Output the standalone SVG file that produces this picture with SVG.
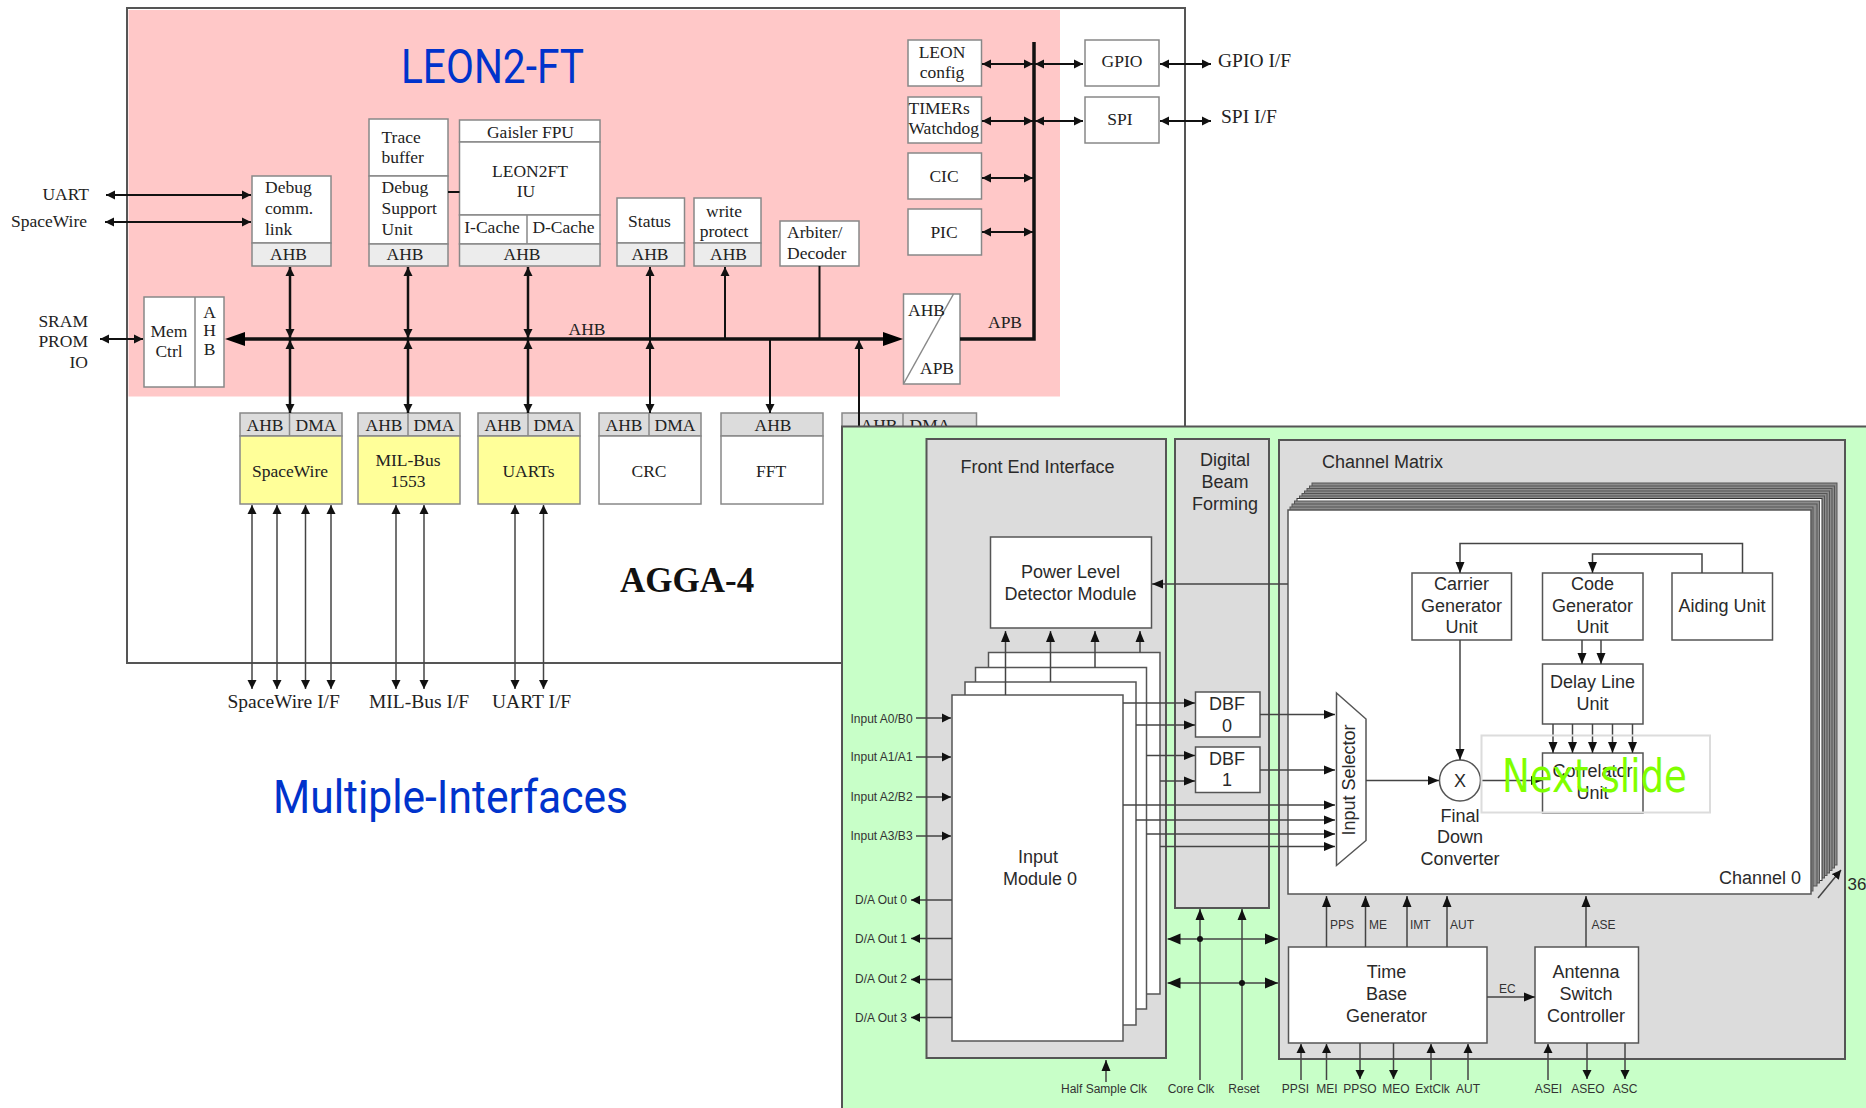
<svg xmlns="http://www.w3.org/2000/svg" width="1866" height="1108" viewBox="0 0 1866 1108">
<style>
text{fill:#222}
.s{font:17.5px "Liberation Serif",serif}
.l{font:19.5px "Liberation Serif",serif}
.a{font:18px "Liberation Sans",sans-serif;fill:#2a2a2a}
.m{font:12px "Liberation Sans",sans-serif;fill:#333}
.c{text-anchor:middle}
.r{text-anchor:end}
.t{font-family:"Roboto",sans-serif;fill:#0033cc;font-size:46px}
.ns{font-family:"DejaVu Sans",sans-serif;fill:#80ff00;font-size:46px}
.ag{font-family:"Liberation Serif",serif;font-weight:bold;font-size:35px;fill:#111}
.b{fill:#fff;stroke:#888;stroke-width:1.5}
.h{fill:#ececec;stroke:#888;stroke-width:1.5}
.g{fill:#dcdcdc;stroke:#888;stroke-width:1.5}
.y{fill:#ffff99;stroke:#888;stroke-width:1.5}
.d{fill:none;stroke:#888;stroke-width:1.5}
.n{fill:#fff;stroke:#555;stroke-width:1.5}
.p{fill:#dcdcdc;stroke:#555;stroke-width:2}
.k{fill:#8c8c8c;stroke:#555;stroke-width:1}
.w1,.w2,.w3,.w4{fill:none;stroke:#111}
.w1{stroke-width:2}
.w2{stroke-width:2.5}
.w3{stroke-width:3.5}
.w4{stroke:#444;stroke-width:1.5}
.sm{marker-start:url(#as);marker-end:url(#as)}
.em{marker-end:url(#as)}
.el{marker-end:url(#al)}
.dd{marker-start:url(#ax);marker-end:url(#ax)}
.hd{fill:#000}
</style>
<defs>
<marker id="as" markerUnits="userSpaceOnUse" markerWidth="9" markerHeight="10" refX="9" refY="5" orient="auto-start-reverse"><path d="M0,0.5L9,5L0,9.500z" fill="#111"/></marker>
<marker id="al" markerUnits="userSpaceOnUse" markerWidth="11" markerHeight="11" refX="11" refY="5.500" orient="auto-start-reverse"><path d="M0,1L11,5.500L0,10z" fill="#111"/></marker>
<marker id="ax" markerUnits="userSpaceOnUse" markerWidth="13" markerHeight="14" refX="13" refY="7" orient="auto-start-reverse"><path d="M0,1.500L13,7L0,12.500z" fill="#111"/></marker>
</defs>
<rect width="1866" height="1108" fill="#fff"/>

<g id="agga4">
<rect x="127" y="8" width="1058" height="655" fill="#fff" stroke="#555" stroke-width="2"/>
<rect x="128.500" y="10" width="931.500" height="386.500" fill="#ffc8c8"/>
<text x="401" y="83" class="t" style="font-size:48px" textLength="183" lengthAdjust="spacingAndGlyphs">LEON2-FT</text>
<text x="620" y="592" class="ag">AGGA-4</text>
<text x="273" y="813" class="t" textLength="355" lengthAdjust="spacingAndGlyphs">Multiple-Interfaces</text>
</g>

<g id="debug-link"><rect class="b" x="252" y="176" width="79" height="67"/><rect class="h" x="252" y="243" width="79" height="23"/><text class="s" x="265" y="193">Debug</text><text class="s" x="265" y="214">comm.</text><text class="s" x="265" y="235">link</text><text class="s c" x="288.500" y="260">AHB</text></g>
<g id="debug-support"><rect class="b" x="369" y="119" width="79" height="57"/><rect class="b" x="369" y="176" width="79" height="68"/><rect class="h" x="369" y="244" width="79" height="22"/><text class="s" x="381.500" y="143">Trace</text><text class="s" x="381.500" y="163">buffer</text><text class="s" x="381.500" y="193">Debug</text><text class="s" x="381.500" y="214">Support</text><text class="s" x="381.500" y="235">Unit</text><text class="s c" x="405" y="260">AHB</text></g>
<g id="leon2ft"><rect class="b" x="459.500" y="120" width="140.500" height="22"/><rect class="b" x="459.500" y="142" width="140.500" height="73"/><rect class="b" x="459.500" y="215" width="140.500" height="29"/><path class="d" d="M527 215V244"/><rect class="h" x="459.500" y="244" width="140.500" height="22"/><text class="s c" x="530.500" y="137.500">Gaisler FPU</text><text class="s c" x="530" y="176.500">LEON2FT</text><text class="s c" x="526" y="197">IU</text><text class="s c" x="492" y="232.500">I-Cache</text><text class="s c" x="563.500" y="232.500">D-Cache</text><text class="s c" x="522" y="260">AHB</text></g>
<g id="mem-ctrl"><rect class="b" x="144" y="297" width="80" height="90"/><path class="d" d="M195 297V387"/><text class="s c" x="169" y="337">Mem</text><text class="s c" x="169" y="357">Ctrl</text><text class="s c" x="209.500" y="318">A</text><text class="s c" x="209.500" y="336">H</text><text class="s c" x="209.500" y="355">B</text></g>
<g id="status"><rect class="b" x="617" y="198" width="67.500" height="45"/><rect class="h" x="617" y="243" width="67.500" height="23"/><text class="s c" x="649.500" y="227">Status</text><text class="s c" x="650" y="260">AHB</text></g>
<g id="write-protect"><rect class="b" x="694" y="198" width="67" height="45"/><rect class="h" x="694" y="243" width="67" height="23"/><text class="s c" x="724" y="217">write</text><text class="s c" x="724" y="237">protect</text><text class="s c" x="728.500" y="260">AHB</text></g>
<g id="arbiter"><rect class="b" x="780" y="221" width="79" height="45"/><text class="s" x="787" y="238">Arbiter/</text><text class="s" x="787" y="259">Decoder</text></g>
<g id="leon-config"><rect class="b" x="908" y="40" width="73.500" height="46"/><text class="s c" x="942" y="58">LEON</text><text class="s c" x="942" y="78">config</text></g>
<g id="timers"><rect class="b" x="908" y="97" width="73.500" height="46"/><text class="s" x="908.500" y="114">TIMERs</text><text class="s" x="908.500" y="134">Watchdog</text></g>
<g id="cic"><rect class="b" x="908" y="153" width="73.500" height="46"/><text class="s c" x="944" y="182">CIC</text></g>
<g id="pic"><rect class="b" x="908" y="209" width="73.500" height="46"/><text class="s c" x="944" y="238">PIC</text></g>
<g id="gpio"><rect class="b" x="1085" y="40" width="74" height="46"/><text class="s c" x="1122" y="67">GPIO</text></g>
<g id="spi"><rect class="b" x="1085" y="97" width="74" height="46"/><text class="s c" x="1120" y="125">SPI</text></g>
<g id="ahb-apb"><rect class="b" x="903.500" y="294" width="56.500" height="90"/><path class="d" d="M953.500 294L904 383"/><text class="s" x="908" y="316">AHB</text><text class="s" x="920" y="374">APB</text></g>

<g id="spacewire"><rect class="g" x="240" y="413" width="102" height="23"/><rect class="y" x="240" y="436" width="102" height="68"/><path class="d" d="M289.500 413V436"/><text class="s c" x="265" y="431">AHB</text><text class="s c" x="316" y="431">DMA</text><text class="s c" x="290" y="477">SpaceWire</text></g>
<g id="milbus"><rect class="g" x="358" y="413" width="102" height="23"/><rect class="y" x="358" y="436" width="102" height="68"/><path class="d" d="M408 413V436"/><text class="s c" x="384" y="431">AHB</text><text class="s c" x="434" y="431">DMA</text><text class="s c" x="408" y="466">MIL-Bus</text><text class="s c" x="408" y="487">1553</text></g>
<g id="uarts"><rect class="g" x="478" y="413" width="102" height="23"/><rect class="y" x="478" y="436" width="102" height="68"/><path class="d" d="M528 413V436"/><text class="s c" x="503" y="431">AHB</text><text class="s c" x="554" y="431">DMA</text><text class="s c" x="528.500" y="477">UARTs</text></g>
<g id="crc"><rect class="g" x="599" y="413" width="102" height="23"/><rect class="b" x="599" y="436" width="102" height="68"/><path class="d" d="M649 413V436"/><text class="s c" x="624" y="431">AHB</text><text class="s c" x="675" y="431">DMA</text><text class="s c" x="649" y="477">CRC</text></g>
<g id="fft"><rect class="g" x="721" y="413" width="102" height="23"/><rect class="b" x="721" y="436" width="102" height="68"/><text class="s c" x="773" y="431">AHB</text><text class="s c" x="771" y="477">FFT</text></g>
<g id="hidden-block"><rect class="g" x="842" y="413" width="134.500" height="30"/><path class="d" d="M903 413V436"/><text class="s c" x="879" y="431">AHB</text><text class="s c" x="930" y="431">DMA</text></g>

<g id="labels-top">
<text class="s r" x="89" y="200">UART</text><text class="s r" x="87" y="227">SpaceWire</text>
<text class="s r" x="88" y="327">SRAM</text><text class="s r" x="88" y="347">PROM</text><text class="s r" x="88" y="368">IO</text>
<text class="s" x="568.500" y="335">AHB</text><text class="s" x="988" y="328">APB</text>
<text class="l" x="1218" y="67">GPIO I/F</text><text class="l" x="1221" y="123">SPI I/F</text>
<text class="l" x="227.500" y="708">SpaceWire I/F</text><text class="l" x="369" y="708">MIL-Bus I/F</text><text class="l" x="492" y="708">UART I/F</text>
</g>

<g id="connectors-top">
<path class="w3" d="M240 339H888"/><path class="hd" d="M225 339L245 332V346z"/><path class="hd" d="M903 339L883 332V346z"/>
<path class="w3" d="M960 339H1034V42"/>
<g class="w1">
<path class="sm" d="M106 195H251"/><path class="sm" d="M105 222H251"/><path class="sm" d="M100 339H143"/>
<path d="M448 192H459.500"/>
<path class="sm" d="M982 64H1033"/><path class="sm" d="M1035 64H1083"/><path class="sm" d="M1160 64H1211"/>
<path class="sm" d="M982 121H1033"/><path class="sm" d="M1035 121H1083"/><path class="sm" d="M1160 121H1211"/>
<path class="sm" d="M982 178H1033"/><path class="sm" d="M982 232H1033"/>
</g>
<g class="w2">
<path class="sm" d="M290 267V338"/><path class="sm" d="M290 340V413"/>
<path class="sm" d="M408 267V338"/><path class="sm" d="M408 340V413"/>
<path class="sm" d="M528 267V338"/><path class="sm" d="M528 340V413"/>
</g>
<g class="w1">
<path class="em" d="M650 339V267"/><path class="sm" d="M650 340V413"/>
<path class="em" d="M725 339V267"/><path d="M819.500 266V339"/>
<path class="em" d="M770 339V413"/><path class="em" d="M859 426V340"/>
</g>
<g class="w4">
<path class="sm" d="M252 505V689"/><path class="sm" d="M277 505V689"/><path class="sm" d="M305.500 505V689"/><path class="sm" d="M331 505V689"/>
<path class="sm" d="M396 505V689"/><path class="sm" d="M424 505V689"/><path class="sm" d="M515 505V689"/><path class="sm" d="M543.500 505V689"/>
</g>
</g>

<rect id="green-panel" x="842" y="426.500" width="1030" height="690" fill="#c8ffc8" stroke="#555" stroke-width="2"/>

<g id="front-end"><rect class="p" x="926.500" y="439" width="239.500" height="619"/><text class="a" x="960.500" y="472.500">Front End Interface</text></g>
<g id="beam-forming"><rect class="p" x="1175" y="439" width="94" height="469"/><text class="a c" x="1225" y="466">Digital</text><text class="a c" x="1225" y="487.500">Beam</text><text class="a c" x="1225" y="509.500">Forming</text></g>
<g id="channel-matrix"><rect class="p" x="1279" y="440" width="566" height="619"/><text class="a" x="1322" y="468">Channel Matrix</text></g>
<g id="channel-stack">
<rect class="k" x="1312" y="483" width="525" height="382"/><rect class="k" x="1309.500" y="486" width="525" height="382"/><rect class="k" x="1307" y="488.500" width="525" height="382"/><rect class="k" x="1304.500" y="491" width="525" height="382"/><rect class="k" x="1302" y="493.500" width="525" height="382"/><rect class="k" x="1299.500" y="496" width="525" height="382"/><rect x="1297" y="498.500" width="525" height="382" fill="#fff" stroke="#333"/><rect class="k" x="1294.500" y="501" width="525" height="382"/><rect class="k" x="1292" y="504" width="525" height="382"/><rect class="k" x="1290" y="507" width="523" height="384"/>
</g>
<g id="channel-0"><rect class="n" x="1288" y="510" width="523" height="384"/><text class="a" x="1719" y="884">Channel 0</text></g>

<g id="input-3"><rect class="n" x="988.500" y="652.500" width="171.500" height="341.500"/></g>
<g id="input-2"><rect class="n" x="975.500" y="667.500" width="171" height="341.500"/></g>
<g id="input-1"><rect class="n" x="965" y="682" width="171" height="343"/></g>
<g id="input-0"><rect class="n" x="952" y="695" width="171" height="346"/><text class="a c" x="1038" y="863">Input</text><text class="a c" x="1040" y="885">Module 0</text></g>
<g id="power-level"><rect class="n" x="990.500" y="537" width="161" height="91"/><text class="a c" x="1070.500" y="578">Power Level</text><text class="a c" x="1070.500" y="600">Detector Module</text></g>
<g id="dbf-0"><rect class="n" x="1195.500" y="692" width="64.500" height="45"/><text class="a c" x="1227" y="709.500">DBF</text><text class="a c" x="1227" y="731.500">0</text></g>
<g id="dbf-1"><rect class="n" x="1195.500" y="747" width="64.500" height="45.500"/><text class="a c" x="1227" y="764.500">DBF</text><text class="a c" x="1227" y="786">1</text></g>
<g id="carrier"><rect class="n" x="1412" y="573" width="99.500" height="67"/><text class="a c" x="1461.500" y="590">Carrier</text><text class="a c" x="1461.500" y="611.500">Generator</text><text class="a c" x="1461.500" y="633">Unit</text></g>
<g id="code"><rect class="n" x="1542.500" y="573" width="100.500" height="67"/><text class="a c" x="1592.500" y="590">Code</text><text class="a c" x="1592.500" y="611.500">Generator</text><text class="a c" x="1592.500" y="633">Unit</text></g>
<g id="aiding"><rect class="n" x="1672" y="573" width="100.500" height="67"/><text class="a c" x="1722" y="611.500">Aiding Unit</text></g>
<g id="delay"><rect class="n" x="1542.500" y="664" width="100.500" height="60"/><text class="a c" x="1592.500" y="688">Delay Line</text><text class="a c" x="1592.500" y="710">Unit</text></g>
<g id="correlator"><rect class="n" x="1542.500" y="753" width="100.500" height="60"/><text class="a c" x="1592.500" y="777">Correlator</text><text class="a c" x="1592.500" y="799">Unit</text></g>
<g id="mixer"><ellipse class="n" cx="1460" cy="780.500" rx="20.500" ry="20.500"/><text class="a c" x="1460" y="787">X</text><text class="a c" x="1460" y="821.500">Final</text><text class="a c" x="1460" y="843">Down</text><text class="a c" x="1460" y="865">Converter</text></g>
<g id="input-selector"><path class="n" d="M1336.500 693L1366 719V840.500L1336.500 865.500z"/><text class="a c" transform="translate(1355 780) rotate(-90)">Input Selector</text></g>
<g id="time-base"><rect class="n" x="1288.500" y="947" width="198.500" height="96"/><text class="a c" x="1386.500" y="977.500">Time</text><text class="a c" x="1386.500" y="1000">Base</text><text class="a c" x="1386.500" y="1021.500">Generator</text></g>
<g id="antenna"><rect class="n" x="1535" y="947" width="103.500" height="96"/><text class="a c" x="1586" y="977.500">Antenna</text><text class="a c" x="1586" y="1000">Switch</text><text class="a c" x="1586" y="1021.500">Controller</text></g>

<g id="labels-bottom">
<text class="m" x="850.500" y="723">Input A0/B0</text><text class="m" x="850.500" y="761">Input A1/A1</text><text class="m" x="850.500" y="801">Input A2/B2</text><text class="m" x="850.500" y="840">Input A3/B3</text>
<text class="m" x="855" y="904">D/A Out 0</text><text class="m" x="855" y="942.500">D/A Out 1</text><text class="m" x="855" y="983">D/A Out 2</text><text class="m" x="855" y="1021.500">D/A Out 3</text>
<text class="m" x="1330" y="929">PPS</text><text class="m" x="1369" y="929">ME</text><text class="m" x="1410" y="929">IMT</text><text class="m" x="1450" y="929">AUT</text><text class="m" x="1591.500" y="929">ASE</text><text class="m" x="1499" y="993">EC</text>
<text class="m c" x="1104" y="1093">Half Sample Clk</text><text class="m c" x="1191" y="1093">Core Clk</text><text class="m c" x="1244" y="1093">Reset</text><text class="m c" x="1295.500" y="1093">PPSI</text><text class="m c" x="1327" y="1093">MEI</text><text class="m c" x="1360" y="1093">PPSO</text><text class="m c" x="1396" y="1093">MEO</text><text class="m c" x="1432.500" y="1093">ExtClk</text><text class="m c" x="1468" y="1093">AUT</text><text class="m c" x="1548.500" y="1093">ASEI</text><text class="m c" x="1588" y="1093">ASEO</text><text class="m c" x="1625" y="1093">ASC</text>
<text class="a" x="1847.500" y="890" style="font-size:17px">36</text>
</g>

<g id="connectors-bottom">
<g class="w4">
<path class="el" d="M1005.500 695V631"/><path class="el" d="M1050.500 682V631"/><path class="el" d="M1095 667.500V631"/><path class="el" d="M1140 652.500V631"/>
<path class="el" d="M1288 584H1152"/>
<path class="el" d="M1123 703H1195"/><path class="el" d="M1136 725H1195"/><path class="el" d="M1146.500 755.500H1195"/><path class="el" d="M1160 781H1195"/>
<path class="el" d="M1260 714.500H1335"/><path class="el" d="M1260 770H1335"/>
<path class="el" d="M1123 805H1335"/><path class="el" d="M1136 820H1335"/><path class="el" d="M1146.500 834H1335"/><path class="el" d="M1160 846.500H1335"/>
<path class="el" d="M1366 780.500H1439"/><path class="el" d="M1480.500 780.500H1542"/>
<path class="el" d="M1460 640V760"/>
<path class="el" d="M1742.500 573V543.500H1460V573"/><path class="el" d="M1702 573V554H1592.500V573"/>
<path class="el" d="M1582 640V664"/><path class="el" d="M1601 640V664"/>
<path class="el" d="M1553 724V753"/><path class="el" d="M1572.500 724V753"/><path class="el" d="M1592.500 724V753"/><path class="el" d="M1612.500 724V753"/><path class="el" d="M1632.500 724V753"/>
<path class="em" d="M916 718H951"/><path class="em" d="M916 757H951"/><path class="em" d="M916 797H951"/><path class="em" d="M916 836H951"/>
<path class="em" d="M952 900H911"/><path class="em" d="M952 938.500H911"/><path class="em" d="M952 979.500H911"/><path class="em" d="M952 1017.500H911"/>
<path class="el" d="M1106 1082V1060"/><path class="el" d="M1200 1080V909"/><path class="el" d="M1242 1080V909"/>
<path class="dd" d="M1167.500 939H1278"/><path class="dd" d="M1167.500 983H1278"/>
<path class="el" d="M1326.500 947V896"/><path class="el" d="M1365.500 947V896"/><path class="el" d="M1407 947V896"/><path class="el" d="M1447 947V896"/><path class="el" d="M1586 947V896"/>
<path class="el" d="M1487 997H1535"/>
<path class="em" d="M1301 1080V1044"/><path class="em" d="M1326.500 1080V1044"/><path class="em" d="M1360 1043V1079"/><path class="em" d="M1393.500 1043V1079"/><path class="em" d="M1431 1080V1044"/><path class="em" d="M1468 1080V1044"/><path class="em" d="M1548 1080V1044"/><path class="em" d="M1587 1043V1079"/><path class="em" d="M1625 1043V1079"/>
<path class="em" d="M1818 898L1841 870"/>
</g>
<circle cx="1200" cy="939" r="3" fill="#111"/><circle cx="1242" cy="983" r="3" fill="#111"/>
</g>

<g id="next-slide">
<rect x="1481.500" y="735.500" width="228.500" height="77" fill="none" stroke="#dcdcdc" stroke-width="2"/>
<text x="1502" y="792" class="ns" textLength="185" lengthAdjust="spacingAndGlyphs">Next slide</text>
</g>
</svg>
